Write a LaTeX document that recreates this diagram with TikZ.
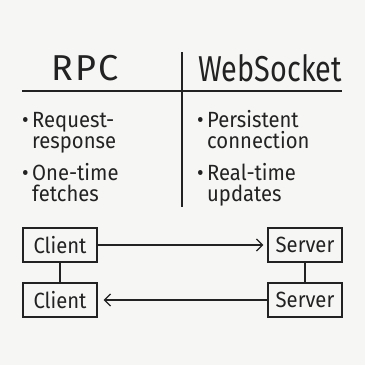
\documentclass[tikz,border=0pt]{standalone}
\usepackage{fontspec}
\setmainfont{Fira Sans}[FakeStretch=0.92]
\newfontfamily\headingfont{Fira Sans}[FakeStretch=0.8]
\newfontfamily\wideheadingfont{Fira Sans}
\usetikzlibrary{arrows.meta}
\definecolor{ink}{HTML}{222222}
\definecolor{paper}{HTML}{F6F6F4}

\begin{document}
\begin{tikzpicture}[
    x=1pt, y=-1pt,
    >={Straight Barb[length=6pt,width=12pt]},
    heading/.style={
        text=ink,
        font=\headingfont\fontsize{36}{36}\selectfont
    },
    itemtext/.style={
        text=ink,
        anchor=base west,
        inner sep=0pt,
        font=\fontsize{22}{22}\selectfont
    },
    peer/.style={
        draw=ink,
        line width=1.3pt,
        text=ink,
        minimum width=74pt,
        minimum height=34pt,
        inner sep=0pt,
        font=\fontsize{22}{22}\selectfont
    },
    rule/.style={draw=ink, line width=1.3pt}
]
\fill[paper] (0,0) rectangle (365,365);

% Column headings and the table lines.
\node[heading,font=\wideheadingfont\fontsize{36}{36}\selectfont] (rpc)
    at (85,68) {R\kern2pt P\kern2pt C};
\node[heading] (websocket) at (270,68) {WebSocket};
\draw[rule] (22,91) -- (342,91);
\draw[rule] (182,52) -- (182,207);

% Items: bullet position, then the two lines of text.
\foreach \x/\y/\first/\second
    [count=\itemnumber from 1] in {
    22/127/Request-/response,
    22/180/One-time/fetches,
    197/127/Persistent/connection,
    197/180/Real-time/updates
}{
    \node[itemtext] (bullet\itemnumber) at (\x,\y) {\textbullet};
    \node[itemtext] (first\itemnumber) at (\x+10,\y) {\first};
    \node[itemtext] (second\itemnumber) at (\x+10,\y+21) {\second};
}

% Client and server boxes.
\node[peer] (clienttop) at (60,245) {Client};
\node[peer] (servertop) at (305,245) {Server};
\node[peer] (clientbottom) at (60,300) {Client};
\node[peer] (serverbottom) at (305,300) {Server};

\draw[rule] (clienttop) -- (clientbottom);
\draw[rule] (servertop) -- (serverbottom);
\draw[rule,->,shorten >=4pt] (clienttop) -- (servertop);
\draw[rule,->,shorten >=6pt] (serverbottom) -- (clientbottom);
\end{tikzpicture}
\end{document}
